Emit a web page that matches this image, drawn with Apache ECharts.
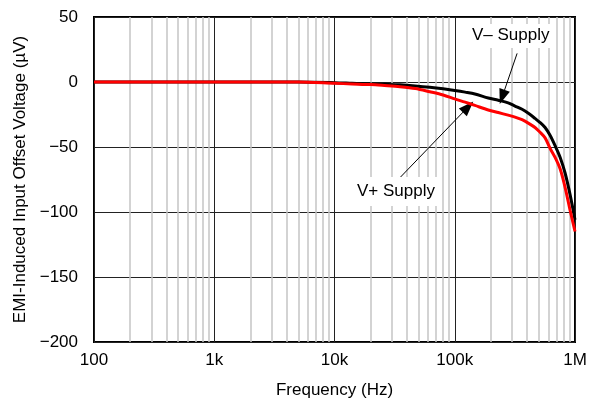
<!DOCTYPE html>
<html>
<head>
<meta charset="utf-8">
<script src="https://cdn.jsdelivr.net/npm/echarts@6/dist/echarts.min.js"></script>
<style>
  html, body { margin: 0; padding: 0; background: #fff; }
  #chart { width: 592px; height: 404px; }
</style>
</head>
<body>
<div id="chart"></div>
<script>
// frequency points (Hz) and offset voltage (uV)
var freq   = [100, 1000, 5000, 10000, 14000, 20000, 26000, 35000, 47000, 62000, 80000, 100000, 122000, 147000,
              190000, 230000, 278000, 317000, 363000, 415000, 465000, 510000, 564000, 620000, 683000, 753000,
              827000, 912000, 1000000];
var vMinus = [0, 0, 0, -0.5, -1, -1.5, -1.8, -2.2, -3, -4, -5.2, -6.5, -7.8, -9.2,
              -12.3, -14, -16, -18.5, -21, -24.5, -28, -31, -35, -41, -49, -58,
              -70, -87, -106];
var vPlus  = [0, 0, 0, -1, -1.5, -2, -2.7, -3.6, -5, -7.5, -10, -13, -15.5, -18,
              -21.5, -23.5, -25.5, -27, -29, -32, -35, -38.5, -43, -51, -58, -67,
              -81, -99, -115];

var xTickLabels = {100: '100', 1000: '1k', 10000: '10k', 100000: '100k', 1000000: '1M'};
var minorMult = [2, 3, 4, 5, 6, 7, 8, 9];
var decades = [100, 1000, 10000, 100000];

// annotation arrows: [from, to] in data units
var arrowMinus = [[330000, 22], [248000, -11.5]];
var arrowPlus  = [[35000, -73.6], [129000, -19.2]];

var minorLines = [];
decades.forEach(function (d) {
    minorMult.forEach(function (m) {
        minorLines.push({xAxis: d * m});
    });
});

function pairs(xs, ys) {
    return xs.map(function (x, i) { return [x, ys[i]]; });
}

var font = 'Liberation Sans, Arial, sans-serif';
var myChart = echarts.init(document.getElementById('chart'));
var option = {
    animation: false,
    textStyle: {fontFamily: font},
    grid: {
        left: 94,
        right: 17,
        top: 17,
        bottom: 61,
        show: true,
        borderColor: '#000',
        borderWidth: 2
    },
    xAxis: {
        type: 'log',
        logBase: 10,
        min: 100,
        max: 1000000,
        name: 'Frequency (Hz)',
        nameLocation: 'middle',
        nameGap: 40,
        nameTextStyle: {color: '#000', fontSize: 17},
        axisLine: {show: false},
        axisTick: {show: false},
        axisLabel: {
            color: '#000',
            fontSize: 17,
            margin: 10,
            formatter: function (v) { return xTickLabels[Math.round(v)] || ''; }
        },
        splitLine: {show: true, lineStyle: {color: '#222', width: 1}}
    },
    yAxis: {
        type: 'value',
        min: -200,
        max: 50,
        interval: 50,
        name: 'EMI-Induced Input Offset Voltage (\u00b5V)',
        nameLocation: 'middle',
        nameGap: 61,
        nameTextStyle: {color: '#000', fontSize: 17},
        axisLine: {show: false},
        axisTick: {show: false},
        axisLabel: {
            color: '#000',
            fontSize: 17,
            margin: 16,
            formatter: function (v) { return v < 0 ? '\u2212' + Math.abs(v) : String(v); }
        },
        splitLine: {show: true, lineStyle: {color: '#222', width: 1}}
    },
    series: [
        {
            name: 'grid',
            type: 'line',
            data: [],
            silent: true,
            markLine: {
                silent: true,
                symbol: ['none', 'none'],
                label: {show: false},
                lineStyle: {color: '#c4c4c4', width: 1.5, type: 'solid'},
                data: minorLines
            }
        },
        {
            name: 'V\u2013 Supply',
            type: 'line',
            data: pairs(freq, vMinus),
            showSymbol: false,
            smooth: 0.3,
            zlevel: 1,
            z: 3,
            lineStyle: {color: '#000', width: 3},
            markLine: {
                silent: true,
                symbol: ['none', 'triangle'],
                symbolSize: [11, 15],
                label: {show: false},
                lineStyle: {color: '#000', width: 1, type: 'solid'},
                data: [[{coord: arrowMinus[0]}, {coord: arrowMinus[1]}]]
            }
        },
        {
            name: 'V+ Supply',
            type: 'line',
            data: pairs(freq, vPlus),
            showSymbol: false,
            smooth: 0.3,
            zlevel: 1,
            z: 4,
            lineStyle: {color: '#ff0000', width: 3},
            markLine: {
                silent: true,
                symbol: ['none', 'triangle'],
                symbolSize: [11, 15],
                label: {show: false},
                lineStyle: {color: '#000', width: 1, type: 'solid'},
                data: [[{coord: arrowPlus[0]}, {coord: arrowPlus[1]}]]
            }
        }
    ],
    graphic: [
        {
            type: 'text',
            left: 466,
            top: 24,
            zlevel: 1,
            z: 0,
            style: {
                text: 'V\u2013 Supply',
                fontSize: 17,
                fontFamily: font,
                fill: '#000',
                backgroundColor: '#fff',
                padding: [3, 4, 4, 6]
            }
        },
        {
            type: 'text',
            left: 351,
            top: 177,
            zlevel: 1,
            z: 0,
            style: {
                text: 'V+ Supply',
                fontSize: 17,
                fontFamily: font,
                fill: '#000',
                backgroundColor: '#fff',
                padding: [6, 6, 6, 6]
            }
        }
    ]
};
myChart.setOption(option);
</script>
</body>
</html>
